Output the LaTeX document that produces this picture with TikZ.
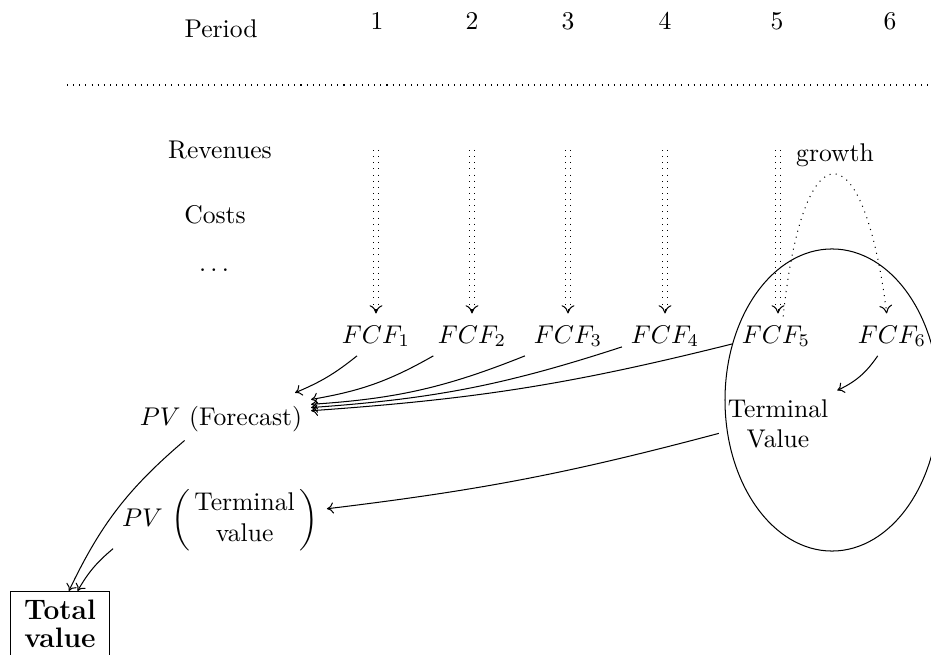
\documentclass[tikz,border=0pt]{standalone}
\usetikzlibrary{calc,arrows.meta}
\begin{document}
\begin{tikzpicture}[x=0.390625pt,y=0.390625pt,
  >={Computer Modern Rightarrow[width=4.4pt,length=2.6pt]},
  dbl/.style={double,double distance=1.6pt,dotted},
  arr/.style={->},
  bigtip/.style={-{Computer Modern Rightarrow[width=5pt,length=3.2pt]}},
  boxed/.style={draw,font=\fontsize{11}{11}\selectfont\bfseries,align=center,inner xsep=5.4pt}]
\useasboundingbox (0,0) rectangle (931,-655);
% header
\node[anchor=base] (period) at (221,-37.5) {Period};
\node[anchor=base] (p1) at (377,-30) {1};
\node[anchor=base] (p2) at (472,-30) {2};
\node[anchor=base] (p3) at (568,-30) {3};
\node[anchor=base] (p4) at (665,-30) {4};
\node[anchor=base] (p5) at (777,-30) {5};
\node[anchor=base] (p6) at (890,-30) {6};
\coordinate (sl) at (67,-85);
\coordinate (sr) at (931,-85);
\draw[dotted] (sl) -- (sr);
% row labels
\node (rev) at (220,-150) {Revenues};
\node (cost) at (215,-215) {Costs};
\node[anchor=base] (dots) at (214,-272) {$\dots$};
\node (growth) at (835,-155) {growth};
% FCF nodes
\node[anchor=base] (fcf1) at (376,-343) {$FCF_1$};
\node[anchor=base] (fcf2) at (472,-343) {$FCF_2$};
\node[anchor=base] (fcf3) at (568,-343) {$FCF_3$};
\node[anchor=base] (fcf4) at (665,-343) {$FCF_4$};
\node[anchor=base] (fcf5) at (776,-343) {$FCF_5$};
\node[anchor=base] (fcf6) at (892,-343) {$FCF_6$};
\coordinate (r1) at (376,-150);
\coordinate (r2) at (472,-150);
\coordinate (r3) at (568,-150);
\coordinate (r4) at (665,-150);
\coordinate (r5) at (778,-150);
\coordinate (e1) at ($(r1 |- fcf1.north)+(0,3)$);
\coordinate (e2) at ($(r2 |- fcf2.north)+(0,3)$);
\coordinate (e3) at ($(r3 |- fcf3.north)+(0,3)$);
\coordinate (e4) at ($(r4 |- fcf4.north)+(0,3)$);
\coordinate (e5) at ($(r5 |- fcf5.north)+(0,3)$);
\foreach \i in {1,...,5}{
  \draw[dbl] (r\i) -- ($(e\i)+(0,4)$);
  \draw[bigtip] ($(e\i)+(0,4)$) -- (e\i);
}
\draw[dotted,bigtip] (fcf5.70) .. controls (803,-127) and (863,-127) .. ($(fcf6.105)+(0,3)$);
% ellipse
\draw (832,-400) ellipse [x radius=41.8pt, y radius=59.0pt];
\node[align=center] (tv) at (778,-424) {Terminal\\Value};
% PV nodes
\node[anchor=base] (pvf) at (221,-425) {$PV$ (Forecast)};
\node (pvt) at (220,-520) {$PV$ $\left(\begin{array}{@{\,}c@{\,}}\mbox{Terminal}\\ \mbox{value}\end{array}\right)$};
\node[boxed] (total) at (60,-624) {Total\\value};
% connectors
\draw[arr] (fcf1.226) to[bend left=8] ($(pvf.north east)+(-16,4)$);
\draw[arr] (fcf2.207) to[bend left=10] (pvf.12);
\draw[arr] (fcf3.south west) to[bend left=9] (pvf.9);
\draw[arr] (fcf4.194) to[bend left=7] (pvf.7);
\draw[arr] (fcf5.190) to[bend left=5] (pvf.5);
\draw[arr] (fcf6.234) to[bend left=15] (tv.north east);
\draw[arr] (tv.189) to[bend left=4] (pvt.6);
\draw[arr] (pvf.211) to[bend right=12] (total.75);
\draw[arr] (pvt.195) to[bend right=10] (total.62);
\end{tikzpicture}
\end{document}
